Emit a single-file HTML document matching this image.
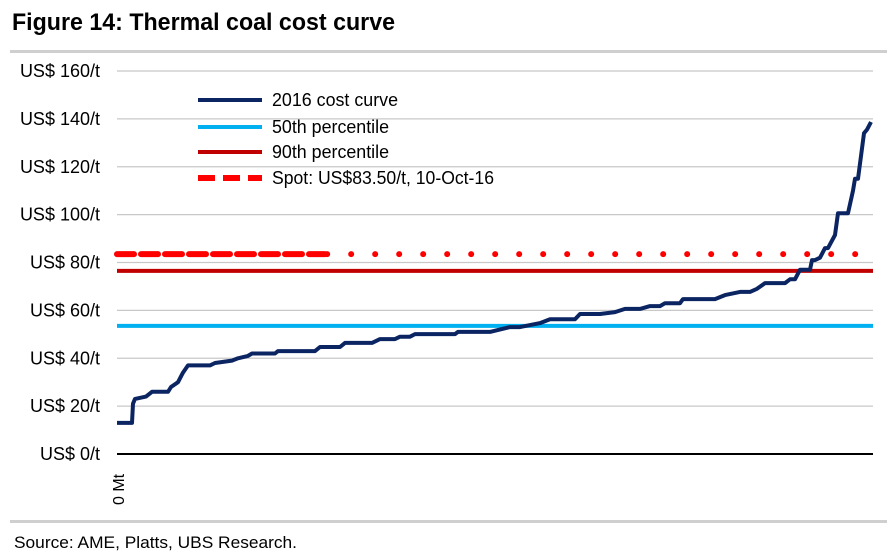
<!DOCTYPE html>
<html><head><meta charset="utf-8"><style>
body{margin:0;background:#fff;width:887px;height:559px;overflow:hidden}
svg{display:block}
text{font-family:"Liberation Sans",sans-serif}
</style></head><body>
<svg id="c" width="887" height="559">
<text x="12" y="30" font-weight="bold" font-size="24" textLength="383" lengthAdjust="spacingAndGlyphs" fill="#000">Figure 14: Thermal coal cost curve</text>
<rect x="10" y="50" width="877" height="3" fill="#cfcfcf"/>
<rect x="10" y="520" width="877" height="3" fill="#cfcfcf"/>
<text x="14" y="548" font-size="17" textLength="283" lengthAdjust="spacingAndGlyphs" fill="#000">Source:  AME, Platts, UBS Research.</text>
<g id="grid"></g><g id="series"></g>
<g>
<line x1="198" y1="100" x2="262" y2="100" stroke="#0b2462" stroke-width="4"/>
<text x="272" y="106" font-size="18" textLength="126" lengthAdjust="spacingAndGlyphs">2016 cost curve</text>
<line x1="198" y1="127" x2="262" y2="127" stroke="#00b0f0" stroke-width="4"/>
<text x="272" y="133" font-size="18" textLength="117" lengthAdjust="spacingAndGlyphs">50th percentile</text>
<line x1="198" y1="152" x2="262" y2="152" stroke="#c00000" stroke-width="4"/>
<text x="272" y="158" font-size="18" textLength="117" lengthAdjust="spacingAndGlyphs">90th percentile</text>
<line x1="198" y1="178" x2="262" y2="178" stroke="#ff0000" stroke-width="6" stroke-dasharray="17 8"/>
<text x="272" y="184" font-size="18" textLength="222" lengthAdjust="spacingAndGlyphs">Spot: US$83.50/t, 10-Oct-16</text>
</g>
<text transform="translate(124,505) rotate(-90)" font-size="16">0 Mt</text>
</svg>
<script>
const yTicks=[0,20,40,60,80,100,120,140,160];
const tickLabels=["US$ 0/t","US$ 20/t","US$ 40/t","US$ 60/t","US$ 80/t","US$ 100/t","US$ 120/t","US$ 140/t","US$ 160/t"];
const volume=[0,1.98,2.12,2.38,3.84,4.63,6.75,7.14,8.07,8.73,9.39,12.30,12.96,15.21,16.01,17.33,17.86,20.90,21.30,26.19,26.85,29.50,30.16,33.73,34.79,36.77,37.43,38.76,39.42,44.71,45.11,49.34,51.98,53.31,55.95,57.28,60.58,61.24,63.89,65.87,67.20,69.18,70.50,71.83,72.49,74.47,74.87,79.10,80.42,82.41,83.73,84.66,85.71,88.36,89.02,89.68,90.34,91.67,91.93,92.33,92.99,93.65,94.05,94.97,95.37,96.69,97.35,97.62,98.02,98.81,99.21,99.74];
const cost=[13,13,21,23,24,26,26,28,30,34,37,37,38,39,40,41,42,42,43,43,44.7,44.7,46.4,46.4,48,48,49,49,50.1,50.1,51,51,53,53,54.7,56.3,56.3,58.5,58.5,59.3,60.6,60.6,61.8,61.8,63,63,64.7,64.7,66.4,67.7,67.7,69,71.4,71.4,73,73,77,77,81,81,82,86,86,91.5,100.6,100.6,110,115,115,134,135.5,138.7];
const p50=[53.5], p90=[76.5], spot=[83.5];
const X0=117,X1=873,Y0=454,Y160=71;
const xs=v=>X0+(X1-X0)*v/100, ys=v=>Y0-(Y0-Y160)*v/160;
const NS="http://www.w3.org/2000/svg";
const grid=document.getElementById('grid'), ser=document.getElementById('series');
function mk(tag,attrs,parent){const e=document.createElementNS(NS,tag);for(const k in attrs)e.setAttribute(k,attrs[k]);parent.appendChild(e);return e;}
yTicks.forEach((t,i)=>{
 const l=mk('line',{x1:X0,x2:X1,y1:ys(t),y2:ys(t),stroke:t===0?'#000':'#c8c8c8','stroke-width':t===0?2:1.2},grid);
 
 
 const tx=mk('text',{x:100,y:ys(t)+6,'text-anchor':'end','font-size':18},grid);
 tx.textContent=tickLabels[i];
 
 
});
const a=mk('line',{x1:X0,x2:X1,y1:ys(p50[0]),y2:ys(p50[0]),stroke:'#00b0f0','stroke-width':4},ser);


const b=mk('line',{x1:X0,x2:X1,y1:ys(p90[0]),y2:ys(p90[0]),stroke:'#c00000','stroke-width':4},ser);


const s1=mk('line',{x1:X0,x2:xs(27.5),y1:ys(spot[0]),y2:ys(spot[0]),stroke:'#ff0000','stroke-width':6,'stroke-dasharray':'17 7','stroke-linecap':'round'},ser);


const s2=mk('line',{x1:xs(27.8),x2:X1,y1:ys(spot[0]),y2:ys(spot[0]),stroke:'#ff0000','stroke-width':6,'stroke-dasharray':'0 24','stroke-linecap':'round'},ser);


let d='';
const n=Math.min(volume.length,cost.length);
for(let i=0;i<n;i++){d+=(i?'L':'M')+xs(volume[i]).toFixed(1)+' '+ys(cost[i]).toFixed(1);}
const c=mk('path',{d:d,fill:'none',stroke:'#0b2462','stroke-width':4,'stroke-linejoin':'round'},ser);


</script>
</body></html>
